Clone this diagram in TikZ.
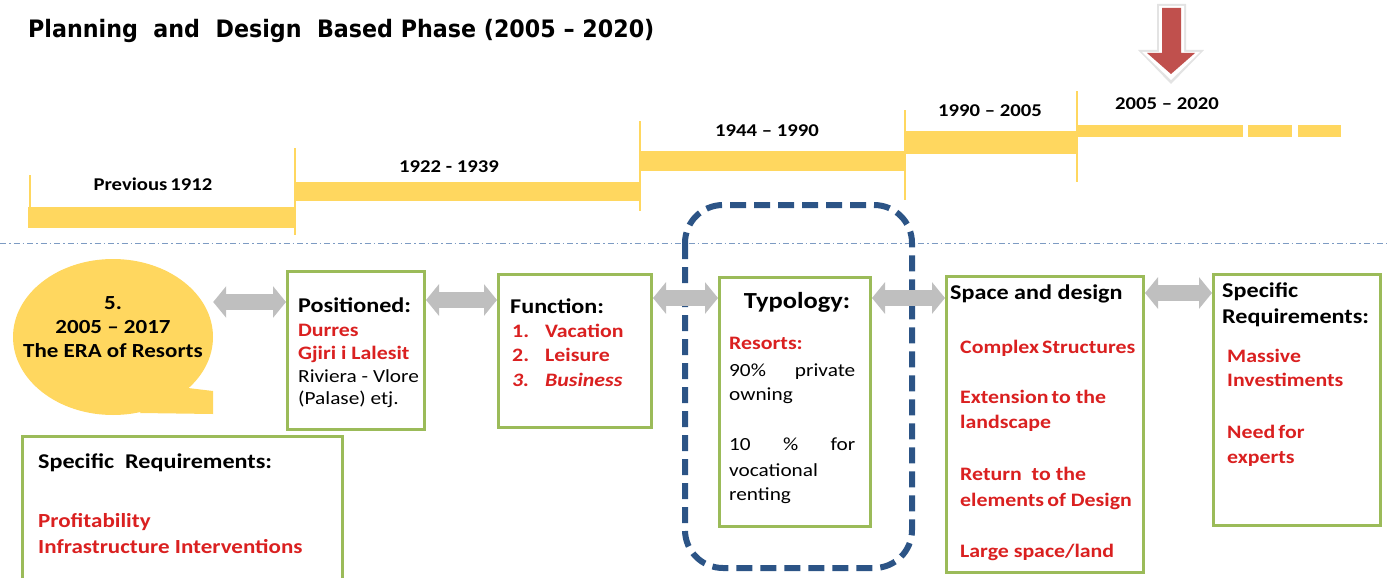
\documentclass[tikz,border=0pt]{standalone}
\usepackage{fontspec}
\setmainfont{Carlito}[FakeStretch=1.15]
\newfontfamily\titlefont{DejaVu Sans}[FakeStretch=0.925]
\usetikzlibrary{arrows.meta,shapes.geometric}
\definecolor{tlyellow}{RGB}{255,215,95}
\definecolor{bxgreen}{RGB}{155,187,89}
\definecolor{navyblue}{RGB}{44,84,134}
\definecolor{arrgray}{RGB}{191,191,191}
\definecolor{txred}{RGB}{218,32,32}
\definecolor{sepblue}{RGB}{125,155,195}
\definecolor{darrow}{RGB}{192,80,77}
\newcommand\hdfont{\fontsize{21}{25}\selectfont\bfseries}
\newcommand\rdfont{\fontsize{19}{23}\selectfont\bfseries\color{txred}}
\newcommand\bdfont{\fontsize{18.5}{22}\selectfont}
\newcommand\tlfont{\fontsize{18}{22}\selectfont\bfseries}
\tikzset{
  greenbox/.style={draw=bxgreen, line width=3pt, fill=white, inner sep=0pt, anchor=north west},
  txt/.style={anchor=base west, inner sep=0pt},
  ctxt/.style={anchor=base, inner sep=0pt},
  bar/.style={fill=tlyellow, draw=none},
  tick/.style={draw=tlyellow, line width=2.5pt},
  dblarrow/.style={draw=arrgray, line width=16pt, {Triangle[width=31pt,length=13pt]}-{Triangle[width=31pt,length=13pt]}},
}
\begin{document}
\begin{tikzpicture}[x=1pt,y=-1pt]
\useasboundingbox (0,0) rectangle (1387,578);
% title
\node[txt, font=\titlefont\bfseries\fontsize{24}{28}\selectfont] (title) at (28,38) {Planning\ \ and\ \ Design\ \ Based\ Phase\ (2005\ –\ 2020)};
% timeline
\fill[bar] (28,207) rectangle (295,228);
\fill[bar] (295,182) rectangle (640,201);
\fill[bar] (640,151) rectangle (905,171);
\fill[bar] (905,131) rectangle (1077,154);
\fill[bar] (1077,125) rectangle (1243,137);
\fill[bar] (1248,125) rectangle (1292,137);
\fill[bar] (1298,125) rectangle (1341,137);
\draw[tick] (30,175) -- (30,228);
\draw[tick] (295,148) -- (295,235);
\draw[tick] (640,121) -- (640,211);
\draw[tick] (905,110) -- (905,200);
\draw[tick] (1077,91) -- (1077,182);
\node[ctxt, font=\tlfont] (l1) at (153,190) {Previous\,1912};
\node[ctxt, font=\tlfont] (l2) at (449,172) {1922 - 1939};
\node[ctxt, font=\tlfont] (l3) at (767,136) {1944 -- 1990};
\node[ctxt, font=\tlfont] (l4) at (990,116) {1990 -- 2005};
\node[ctxt, font=\tlfont] (l5) at (1167,109) {2005 -- 2020};
% red arrow
\fill[gray!22] (1157,4) -- (1186,4) -- (1186,50) -- (1204,50) -- (1171,84) -- (1138,50) -- (1157,50) -- cycle;
\fill[white] (1159,6) -- (1184,6) -- (1184,52) -- (1200,52) -- (1171,80) -- (1142,52) -- (1159,52) -- cycle;
\fill[darrow] (1162,8) -- (1181,8) -- (1181,53) -- (1195,53) -- (1171,74) -- (1147,53) -- (1162,53) -- cycle;
% separator
\draw[sepblue, line width=1pt, dash pattern=on 6pt off 3pt on 1.5pt off 3pt] (0,243) -- (1387,243);
% dashed frame
\draw[navyblue, line width=6pt, dash pattern=on 16pt off 8pt, rounded corners=38pt] (685,205) rectangle (912,568);
% bubble
\node[ellipse, fill=tlyellow, draw=none, minimum width=200pt, minimum height=156pt, inner sep=0pt] (bub) at (113,337) {};
\fill[tlyellow] (188,388) -- (213,391) -- (213,414) -- (140,413) -- (150,400) -- cycle;
\node[ctxt, font=\fontsize{20}{24}\selectfont\bfseries] (b1) at (113,309) {5.};
\node[ctxt, font=\fontsize{20}{24}\selectfont\bfseries] (b2) at (113,333) {2005 -- 2017};
\node[ctxt, font=\fontsize{20}{24}\selectfont\bfseries] (b3) at (113,357) {The ERA of Resorts};
% boxes
\node[greenbox, minimum width=137pt, minimum height=158pt] (pos) at (286,270) {};
\node[greenbox, minimum width=153pt, minimum height=153pt] (fun) at (497,273) {};
\node[greenbox, minimum width=151pt, minimum height=249pt] (typ) at (718,276) {};
\node[greenbox, minimum width=197pt, minimum height=296pt] (spc) at (945,275) {};
\node[greenbox, minimum width=167pt, minimum height=251pt] (spr) at (1212,273) {};
\node[greenbox, minimum width=320pt, minimum height=170pt] (sbl) at (21,435) {};
% connectors
\draw[dblarrow] (bub.east |- 0,302) -- (pos.west |- 0,302);
\draw[dblarrow] (pos.east |- 0,300) -- (fun.west |- 0,300);
\draw[dblarrow] (fun.east |- 0,298) -- (typ.west |- 0,298);
\draw[dblarrow] (typ.east |- 0,298) -- (spc.west |- 0,298);
\draw[dblarrow] (spc.east |- 0,293) -- (spr.west |- 0,293);
% positioned text
\node[txt, font=\hdfont] (p1) at (298,312) {Positioned:};
\node[txt, font=\rdfont] (p2) at (298,336) {Durres};
\node[txt, font=\rdfont] (p3) at (298,359) {Gjiri i Lalesit};
\node[txt, font=\bdfont] (p4) at (298,382) {Riviera - Vlore};
\node[txt, font=\bdfont] (p5) at (298,404) {(Palase) etj.};
% function text
\node[txt, font=\hdfont] (f0) at (510,313) {Function:};
\node[txt, font=\rdfont] (f1n) at (512,337) {1.};
\node[txt, font=\rdfont] (f1) at (545,337) {Vacation};
\node[txt, font=\rdfont] (f2n) at (512,361) {2.};
\node[txt, font=\rdfont] (f2) at (545,361) {Leisure};
\node[txt, font=\rdfont\itshape] (f3n) at (512,386) {3.};
\node[txt, font=\rdfont\itshape] (f3) at (545,386) {Business};
% typology text
\node[ctxt, font=\fontsize{23}{27}\selectfont\bfseries] (y0) at (797,308) {Typology:};
\node[txt, font=\rdfont] (y1) at (729,349) {Resorts:};
\node[txt, font=\bdfont] (y2) at (729,376) {\makebox[126pt][s]{90\% private}};
\node[txt, font=\bdfont] (y3) at (729,400) {owning};
\node[txt, font=\bdfont] (y4) at (729,450) {\makebox[126pt][s]{10 \% for}};
\node[txt, font=\bdfont] (y5) at (729,476) {vocational};
\node[txt, font=\bdfont] (y6) at (729,500) {renting};
% space and design text
\node[txt, font=\hdfont] (s0) at (950,299) {Space and design};
\node[txt, font=\rdfont] (s1) at (960,353) {Complex\,Structures};
\node[txt, font=\rdfont] (s2) at (960,403) {Extension\,to the};
\node[txt, font=\rdfont] (s3) at (960,428) {landscape};
\node[txt, font=\rdfont] (s4) at (960,480) {Return\ \ to the};
\node[txt, font=\rdfont] (s5) at (960,506) {elements\,of Design};
\node[txt, font=\rdfont] (s6) at (960,557) {Large space/land};
% specific requirements right
\node[txt, font=\hdfont] (r0) at (1222,297) {Specific};
\node[txt, font=\hdfont] (r1) at (1222,323) {Requirements:};
\node[txt, font=\rdfont] (r2) at (1227,362) {Massive};
\node[txt, font=\rdfont] (r3) at (1227,386) {Investiments};
\node[txt, font=\rdfont] (r4) at (1227,438) {Need\,for};
\node[txt, font=\rdfont] (r5) at (1227,463) {experts};
% bottom-left
\node[txt, font=\hdfont] (q0) at (38,468) {Specific\ \ Requirements:};
\node[txt, font=\rdfont\fontsize{20}{24}\selectfont] (q1) at (38,527) {Profitability};
\node[txt, font=\rdfont\fontsize{20}{24}\selectfont] (q2) at (38,553) {Infrastructure Interventions};
\end{tikzpicture}
\end{document}
